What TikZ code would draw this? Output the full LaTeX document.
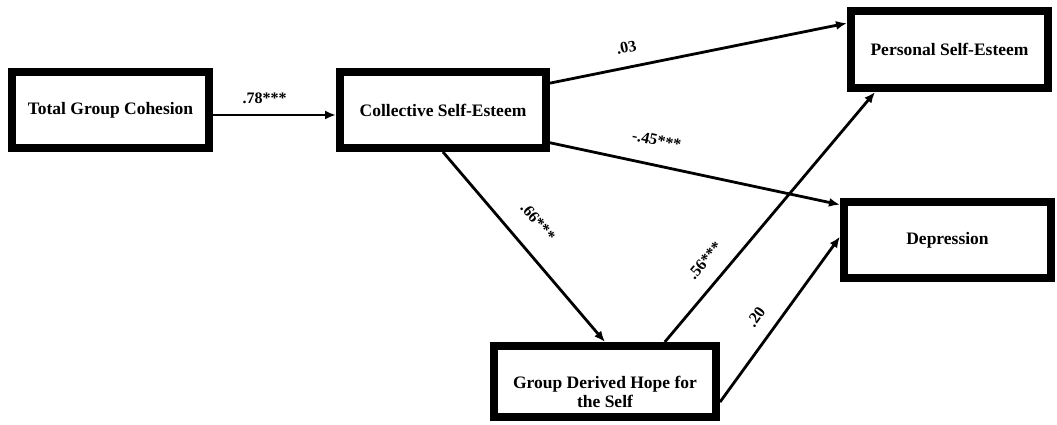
\documentclass[tikz,border=0pt]{standalone}
\usepackage{fontspec}
\setmainfont{Liberation Serif}
\usetikzlibrary{arrows.meta,calc}
\begin{document}
\begin{tikzpicture}[x=1pt,y=-1pt,
 boxfont/.style={font=\fontsize{17.5}{19}\selectfont\bfseries},
 box/.style={draw,line width=8pt,fill=white,align=center,inner sep=0pt,boxfont},
 conn/.style={line width=2.8pt,-{Latex[length=11pt,width=9pt]}},
 lab/.style={font=\fontsize{16}{18}\selectfont\bfseries,sloped,inner sep=0pt}]
\useasboundingbox[fill=white] (0,0) rectangle (1057,424);
\node[box,minimum width=197pt,minimum height=76pt] (tgc) at (110.5,110) {Total Group Cohesion};
\node[box,minimum width=206pt,minimum height=76pt] (cse) at (443,110) {Collective Self-Esteem};
\node[box,minimum width=197pt,minimum height=77pt] (pse) at (949.5,49.5) {Personal Self-Esteem};
\node[box,minimum width=207pt,minimum height=76pt] (dep) at (947.5,240) {Depression};
\node[box,minimum width=222pt,minimum height=71pt,
      label={[boxfont,align=center,yshift=-10pt]center:Group Derived Hope for\\the Self}] (gdh) at (605,381.5) {};

\draw[conn] ([yshift=-5pt]tgc.east) -- node[lab,pos=0.42,above=10pt]{.78***} ([yshift=-5pt]cse.west);
\draw[conn] ($(cse.north east)!0.18!(cse.south east)$) -- node[lab,pos=0.27,above=13pt]{.03} ($(pse.north west)!0.19!(pse.south west)$);
\draw[conn] ($(cse.north east)!0.89!(cse.south east)$) -- node[lab,pos=0.35,above=18pt]{-.45***} ($(dep.north west)!0.08!(dep.south west)$);
\draw[conn] (cse.south) -- node[lab,pos=0.46,above=20pt]{.66***} (gdh.north);
\draw[conn] ($(gdh.north west)!0.76!(gdh.north east)$) -- node[lab,pos=0.27,above=15pt]{.56***} ($(pse.south west)!0.137!(pse.south east)$);
\draw[conn] ($(gdh.north east)!0.76!(gdh.south east)$) -- node[lab,pos=0.44,above=14pt]{.20} ($(dep.north west)!0.46!(dep.south west)$);
\end{tikzpicture}
\end{document}
